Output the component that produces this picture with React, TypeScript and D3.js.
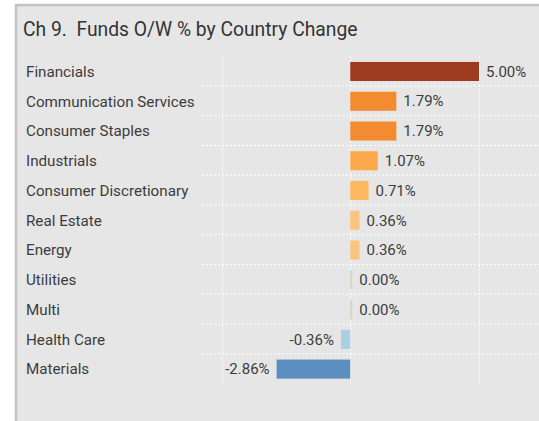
import React from "react";
import * as d3 from "d3";

const categories = [
  "Financials",
  "Communication Services",
  "Consumer Staples",
  "Industrials",
  "Consumer Discretionary",
  "Real Estate",
  "Energy",
  "Utilities",
  "Multi",
  "Health Care",
  "Materials",
];
const values = [5.0, 1.79, 1.79, 1.07, 0.71, 0.36, 0.36, 0.0, 0.0, -0.36, -2.86];
const barColors = [
  "#9d3b20",
  "#f38b30",
  "#f38b30",
  "#fdaa4c",
  "#fdb75f",
  "#f9c47f",
  "#f9c47f",
  "#d8d2c0",
  "#d8d2c0",
  "#a9cfe0",
  "#5a8fc0",
];
const xTicks = [-5, 0, 5];
const title = "Ch 9.  Funds O/W % by Country Change";

const W = 539;
const H = 421;
const FONT = "Roboto, 'Noto Sans', sans-serif";

export default function App() {
  const x = d3.scaleLinear().domain([-5, 5]).range([221.5, 479]);
  const y = d3
    .scaleBand<string>()
    .domain(categories)
    .range([56.6, 384])
    .paddingInner(0.36)
    .paddingOuter(0.18);
  const step = y.step();
  const top = 56.6;
  const bottom = 384;
  const fmt = (v: number) => v.toFixed(2) + "%";

  return (
    <svg
      width={W}
      height={H}
      style={{ position: "absolute", left: 0, top: 0, background: "#fff" }}
      fontFamily={FONT}
    >
      <rect x={16} y={5} width={W + 10} height={H + 10} fill="#e6e6e6" stroke="#c3c3c3" strokeWidth={2.5} />
      <text x={23} y={36} fontSize={19.3} fill="#333" style={{ whiteSpace: "pre" }}>
        {title}
      </text>
      {/* horizontal grid lines between rows */}
      {categories.slice(1).map((c, i) => {
        const yy = top + step * (i + 1) - 0.5;
        return (
          <line key={"h" + i} x1={202} x2={W} y1={yy} y2={yy} stroke="#fff" strokeWidth={1} strokeDasharray="2,2" />
        );
      })}
      {/* vertical grid lines */}
      {xTicks.map((t) => (
        <line
          key={"v" + t}
          x1={Math.round(x(t)) + 0.5}
          x2={Math.round(x(t)) + 0.5}
          y1={top}
          y2={bottom}
          stroke="#fff"
          strokeWidth={1}
          strokeDasharray="2,2"
        />
      ))}
      {categories.map((c, i) => {
        const v = values[i];
        const x0 = x(Math.min(0, v));
        const x1 = x(Math.max(0, v));
        const w = Math.max(x1 - x0, 2);
        const by = y(c)!;
        const cy = by + y.bandwidth() / 2;
        return (
          <g key={c}>
            <text x={26} y={cy} dy="0.35em" fontSize={15.2} fill="#3c3c3c">
              {c}
            </text>
            <rect x={v === 0 ? x(0) : x0} y={by} width={w} height={y.bandwidth()} fill={barColors[i]} />
            <text
              x={v < 0 ? x0 - 7 : x0 + w + 7}
              y={cy}
              dy="0.35em"
              fontSize={15}
              fill="#3c3c3c"
              textAnchor={v < 0 ? "end" : "start"}
            >
              {fmt(v)}
            </text>
          </g>
        );
      })}
    </svg>
  );
}
